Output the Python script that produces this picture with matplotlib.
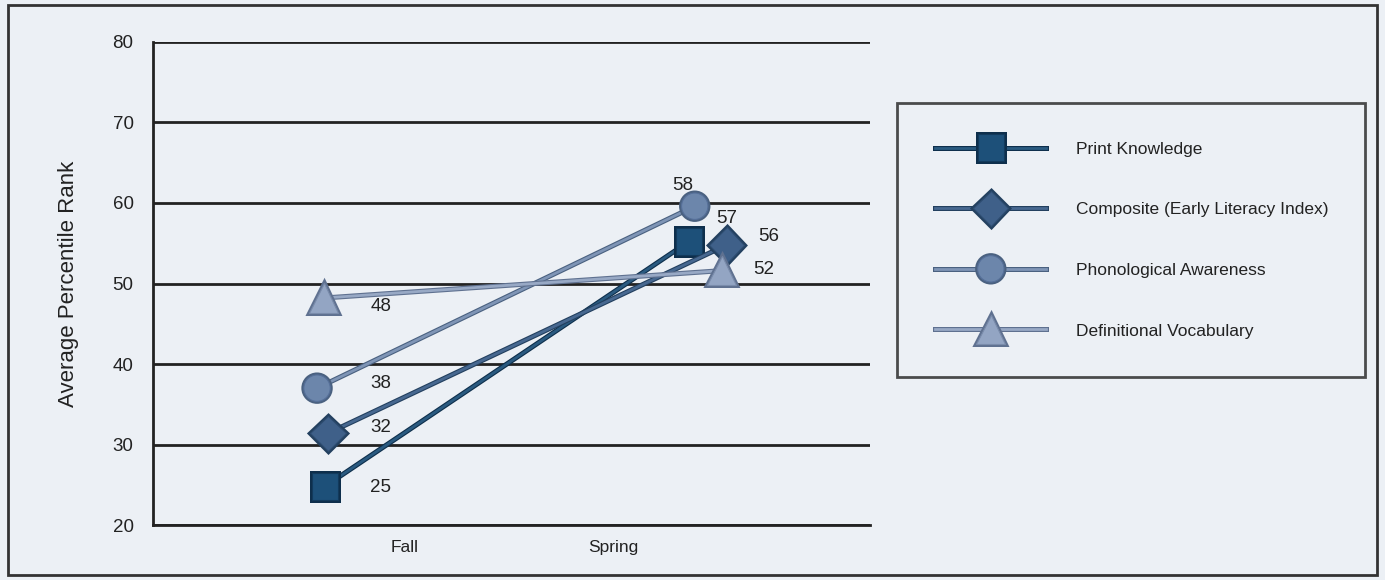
import matplotlib
matplotlib.use("Agg")
import matplotlib.pyplot as plt
import matplotlib.patheffects as pe
from matplotlib.patches import Rectangle

# data
seasons = ["Fall", "Spring"]
series = ["Print Knowledge", "Composite (Early Literacy Index)",
          "Phonological Awareness", "Definitional Vocabulary"]
fall_values = [24.8, 31.4, 37.0, 48.2]
spring_values = [55.2, 54.8, 59.6, 51.6]
fall_labels = ["25", "32", "38", "48"]
spring_labels = ["57", "56", "58", "52"]
y_ticks = [20, 30, 40, 50, 60, 70, 80]

# markers sit off the category ticks in the original
fall_x = [-0.385, -0.37, -0.423, -0.39]
spring_x = [1.365, 1.548, 1.394, 1.524]

markers = ["s", "D", "o", "^"]
msizes = [19, 18, 19, 21]
face = ["#1d5079", "#3f6089", "#6c86ab", "#93a5c3"]
edge = ["#123a5c", "#2e4d72", "#56709a", "#7a8cab"]
line_col = ["#2a5a80", "#476890", "#7f95b6", "#98a9c5"]
line_dark = ["#0e2f4c", "#23405f", "#4a6180", "#5f7190"]

fall_off = [(40, -1), (38, 4), (46, 3), (41, -6)]
spring_off = [(27, 17), (30, 6), (-9, 15), (30, 1)]

bg = "#ecf0f5"
narrow = ["Liberation Sans Narrow", "Liberation Sans", "DejaVu Sans"]

fig = plt.figure(figsize=(13.85, 5.8), dpi=100, facecolor=bg)
ax = fig.add_axes([0.1105, 0.0948, 0.628 - 0.1105, 0.9276 - 0.0948])
ax.set_facecolor(bg)

handles = []
for i, name in enumerate(series):
    xs = [fall_x[i], spring_x[i]]
    ys = [fall_values[i], spring_values[i]]
    (ln,) = ax.plot(xs, ys, color=line_col[i], lw=2.0, marker=markers[i],
                    markersize=msizes[i], markerfacecolor=face[i],
                    markeredgecolor=edge[i], markeredgewidth=0.8,
                    label=name, zorder=3 + i * 0.1,
                    path_effects=[pe.Stroke(linewidth=3.6, foreground=line_dark[i]),
                                  pe.Normal()])
    handles.append(ln)
    ax.annotate(fall_labels[i], (fall_x[i], fall_values[i]), xytext=fall_off[i],
                textcoords="offset points", ha="center", va="center",
                fontsize=13.5, family=narrow, color="#222222")
    ax.annotate(spring_labels[i], (spring_x[i], spring_values[i]),
                xytext=spring_off[i], textcoords="offset points",
                ha="center", va="center", fontsize=13.5, family=narrow,
                color="#222222")

ax.set_xlim(-1.212, 2.236)
ax.set_ylim(20, 80)
ax.set_yticks(y_ticks)
ax.set_xticks(range(len(seasons)))
ax.set_xticklabels(seasons, family=narrow, fontsize=12.5)
for t in ax.get_yticklabels():
    t.set_family(["Liberation Sans", "DejaVu Sans"])
    t.set_fontsize(13.5)
ax.tick_params(axis="y", length=0, pad=14, colors="#222222")
ax.tick_params(axis="x", length=0, pad=11, colors="#222222")
ax.yaxis.grid(True, color="#222222", lw=2)
ax.set_axisbelow(True)
for s in ["top", "right"]:
    ax.spines[s].set_visible(False)
for s in ["left", "bottom"]:
    ax.spines[s].set_color("#222222")
    ax.spines[s].set_linewidth(2)
ax.set_ylabel("Average Percentile Rank", fontsize=16,
              family=["Liberation Sans", "DejaVu Sans"], color="#222222",
              labelpad=24)

leg = fig.legend(handles=handles, loc="center",
                 bbox_to_anchor=(0.6477, 0.3517, 0.9856 - 0.6477, 0.8207 - 0.3517),
                 mode="expand", frameon=True, fancybox=False, numpoints=1,
                 prop={"family": narrow, "size": 12.5}, handlelength=6.4,
                 handletextpad=1.7, labelspacing=2.62, borderpad=2.2,
                 borderaxespad=0, markerscale=1.0)
leg.get_frame().set_edgecolor("#222222")
leg.get_frame().set_linewidth(2)
leg.get_frame().set_facecolor(bg)
for t in leg.get_texts():
    t.set_color("#222222")

fig.patches.append(Rectangle((8 / 1385, 5 / 580), 1369 / 1385, 570 / 580,
                             transform=fig.transFigure, fill=False,
                             edgecolor="#333333", lw=2))

fig.savefig("out.png", dpi=100, facecolor=bg)
